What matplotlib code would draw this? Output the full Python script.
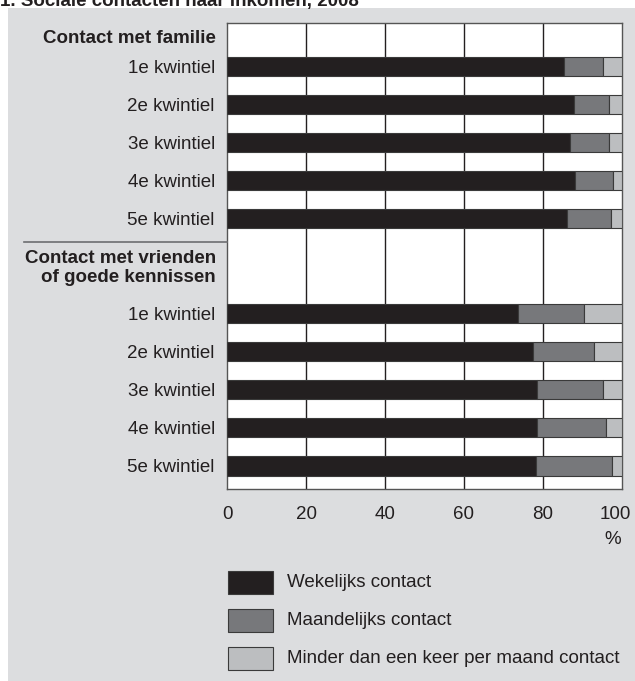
import numpy as np
import matplotlib
matplotlib.use("Agg")
import matplotlib.pyplot as plt
from matplotlib.patches import Rectangle
from matplotlib.transforms import ScaledTranslation

plt.rcParams['font.family'] = ['Liberation Sans', 'DejaVu Sans']

# Data (percentages)
kwintielen = ['1e kwintiel', '2e kwintiel', '3e kwintiel', '4e kwintiel', '5e kwintiel']
familie_wekelijks = [85.3, 87.9, 86.8, 88.2, 86.2]
familie_maandelijks = [10.0, 9.0, 10.1, 9.6, 11.0]
familie_minder = [4.7, 3.1, 3.1, 2.2, 2.8]
vrienden_wekelijks = [73.6, 77.4, 78.6, 78.5, 78.3]
vrienden_maandelijks = [16.8, 15.7, 16.7, 17.4, 19.2]
vrienden_minder = [9.6, 6.9, 4.7, 4.1, 2.5]
series_labels = ['Wekelijks contact', 'Maandelijks contact', 'Minder dan een keer per maand contact']
colors = ['#231f20', '#77787b', '#bcbec0']

W, H = 635, 681
FS = 13.5
fig = plt.figure(figsize=(W / 100, H / 100), dpi=100)
fig.patch.set_facecolor('white')

# grijze achtergrond
fig.add_artist(Rectangle((8 / W, 0), 1, 1 - 8 / H, transform=fig.transFigure,
                         facecolor='#dcdddf', edgecolor='none', zorder=-10))
fig.text(0.0, 1 - 6 / H, '1. Sociale contacten naar inkomen, 2008', fontsize=13.5,
         fontweight='bold', color='#231f20', va='baseline', ha='left')

ax = fig.add_axes([227.3 / W, 1 - 489 / H, (621.7 - 227.3) / W, (489 - 23) / H])
ax.set_facecolor('white')

y_fam = np.arange(5)
y_vri = np.arange(5) + 6.5
bh = 0.51
edge = dict(edgecolor='#3a3a3a', linewidth=0.8, zorder=3)

for y, parts in [(y_fam, [familie_wekelijks, familie_maandelijks, familie_minder]),
                 (y_vri, [vrienden_wekelijks, vrienden_maandelijks, vrienden_minder])]:
    left = np.zeros(5)
    for vals, c in zip(parts, colors):
        ax.barh(y, vals, left=left, height=bh, color=c, **edge)
        left += np.array(vals)

ax.set_xlim(0, 100)
ax.set_ylim(11.11, -1.15)
ax.set_xticks([0, 20, 40, 60, 80, 100])
ax.tick_params(axis='x', length=0, pad=12, labelsize=FS, colors='#231f20')
ax.set_yticks(np.concatenate([y_fam, y_vri]))
ax.set_yticklabels(kwintielen + kwintielen)
ax.tick_params(axis='y', length=0, pad=9, labelsize=FS, colors='#231f20')
for x in [20, 40, 60, 80]:
    ax.axvline(x, color='#231f20', linewidth=1.0, zorder=1)
for s in ax.spines.values():
    s.set_color('#555555')
    s.set_linewidth(1.0)

# "100" iets naar links zodat hij binnen het beeld valt
lbl100 = ax.get_xticklabels()[-1]
lbl100.set_transform(lbl100.get_transform() + ScaledTranslation(-6 / 100, 0, fig.dpi_scale_trans))

# kopjes
ax.text(-0.029, -0.75, 'Contact met familie', transform=ax.get_yaxis_transform(),
        ha='right', va='center', fontsize=FS, fontweight='bold', color='#231f20')
ax.text(-0.029, 5.3, 'Contact met vrienden\nof goede kennissen', transform=ax.get_yaxis_transform(),
        ha='right', va='center', fontsize=FS, fontweight='bold', color='#231f20',
        linespacing=1.2)
fig.add_artist(plt.Line2D([24 / W, 227.3 / W], [1 - 241.7 / H] * 2, color='#6d6e71',
                          linewidth=1.2, transform=fig.transFigure))

fig.text(613 / W, 1 - 540 / H, '%', ha='center', va='center', fontsize=FS, color='#231f20')

# legenda
for i, (lab, c) in enumerate(zip(series_labels, colors)):
    yc = [582.3, 620.7, 658.3][i]
    fig.add_artist(Rectangle((227.7 / W, 1 - (yc + 11.5) / H), 45.6 / W, 23 / H,
                             transform=fig.transFigure, facecolor=c,
                             edgecolor='#3a3a3a', linewidth=0.8))
    fig.text(287.3 / W, 1 - yc / H, lab, ha='left', va='center', fontsize=FS, color='#231f20')

fig.savefig('out.png', dpi=100, facecolor=fig.get_facecolor())
